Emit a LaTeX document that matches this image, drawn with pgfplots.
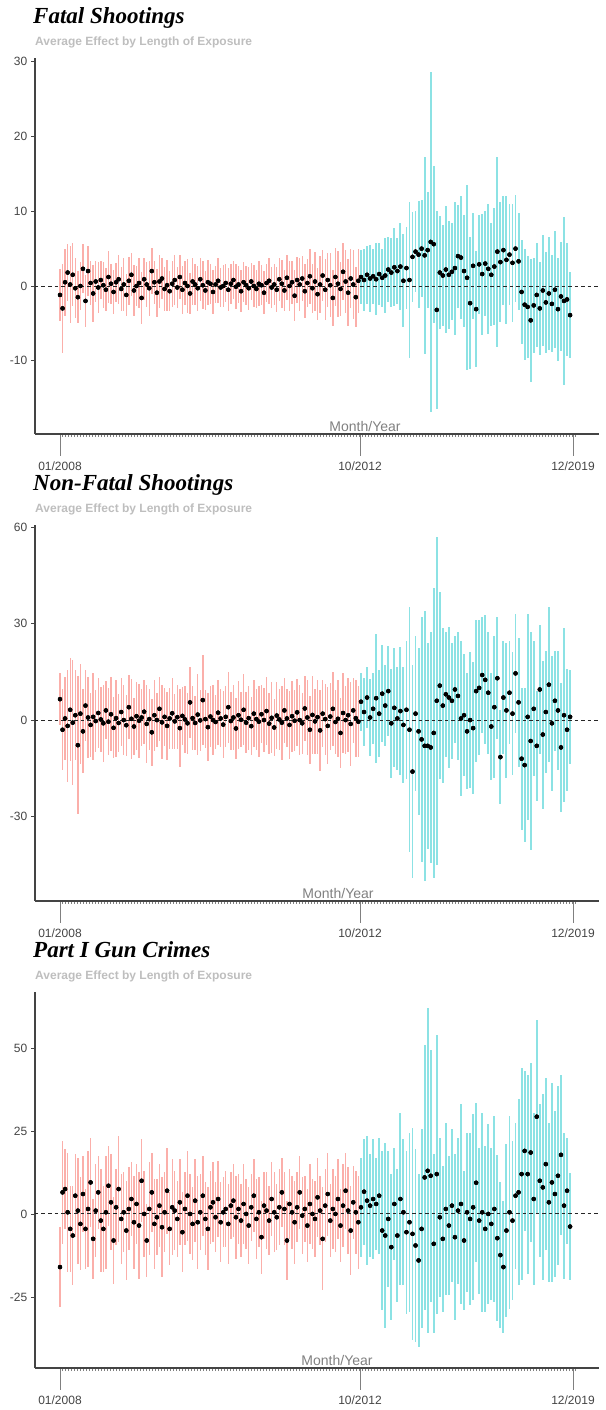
\documentclass[border=0pt]{standalone}
\usepackage{fontspec}
\setmainfont{Liberation Sans}
\newfontfamily\serifbf{Liberation Serif}
\usepackage{pgfplots}
\usepackage{pgfplotstable}
\pgfplotsset{compat=1.18}
\definecolor{rbar}{HTML}{F8766D}
\definecolor{tbar}{HTML}{00BFC4}
\definecolor{axgray}{HTML}{444444}
\definecolor{subgray}{HTML}{BEBEBE}

% Fatal shootings
\pgfplotstableread[row sep=\\]{y e\\
-1.2 3.5\\ -3.0 6.0\\ 0.5 4.5\\ 1.8 3.8\\ 0.2 5.2\\ 1.5 4.2\\ -0.3 4.0\\ -1.5 3.5\\ 0.0 3.2\\ 2.3 3.3\\
-2.0 3.5\\ 2.0 3.4\\ 0.4 3.0\\ -1.0 3.8\\ 0.6 2.8\\ -0.2 3.4\\ 0.8 2.6\\ 0.1 3.1\\ -0.5 2.9\\ 1.2 3.5\\
0.3 2.7\\ -0.8 3.0\\ 0.5 2.6\\ 0.9 3.3\\ -0.4 2.9\\ 0.2 3.6\\ -1.2 2.8\\ 0.7 3.2\\ 1.5 2.9\\ -0.6 3.4\\
0.0 2.7\\ 0.4 3.3\\ -1.6 3.5\\ 0.9 2.8\\ 0.2 3.0\\ -0.3 3.7\\ 2.0 3.1\\ 0.5 2.9\\ -0.9 3.2\\ 0.6 3.5\\
1.0 2.8\\ -0.4 3.0\\ 0.1 3.4\\ -0.7 2.7\\ 0.3 3.1\\ 0.8 3.3\\ -0.2 2.8\\ 1.2 3.0\\ -0.5 3.2\\ 0.4 2.9\\
0.0 3.6\\ -1.0 2.7\\ 0.6 3.1\\ 0.2 2.8\\ -0.3 3.0\\ 0.9 2.9\\ 0.1 3.2\\ -0.6 2.6\\ 0.5 3.0\\ 0.3 2.7\\
-0.8 2.9\\ 0.2 2.5\\ 0.7 3.0\\ -0.2 2.6\\ 0.0 2.8\\ 0.4 2.5\\ -0.5 2.9\\ 0.3 2.7\\ 0.8 2.6\\ -0.1 3.0\\
0.2 2.5\\ -0.7 2.8\\ 0.5 2.7\\ 0.1 2.6\\ -0.3 2.9\\ 0.6 2.5\\ 0.0 2.8\\ -0.4 2.6\\ 0.3 3.0\\ 0.1 2.7\\
-0.9 2.9\\ 0.4 2.6\\ 0.7 3.1\\ -0.2 2.8\\ 0.2 2.7\\ -0.5 3.0\\ 0.9 2.9\\ 0.3 3.2\\ -0.6 2.8\\ 1.1 3.0\\
0.0 3.3\\ 0.5 2.9\\ -1.3 3.4\\ 0.8 3.1\\ 0.2 3.5\\ 1.0 3.0\\ -0.7 3.6\\ 0.4 3.2\\ 1.3 3.7\\ -0.3 3.3\\
0.6 4.0\\ -1.1 3.5\\ 0.2 3.8\\ 1.4 3.4\\ -0.5 4.1\\ 0.8 3.6\\ 0.1 4.3\\ -1.6 3.7\\ 1.2 3.9\\ 0.3 4.4\\
-0.4 3.6\\ 1.9 3.8\\ 0.6 4.2\\ -0.9 4.5\\ 1.0 3.9\\ 0.2 4.6\\ -1.5 4.0\\ 0.7 4.3\\
}\FR
\pgfplotstableread[row sep=\\]{y e\\
1.2 3.6\\ 0.8 4.2\\ 1.5 3.9\\ 1.0 4.5\\ 1.3 3.7\\ 0.9 4.8\\ 1.6 4.1\\ 1.1 3.9\\ 1.4 5.0\\ 2.2 4.3\\
1.8 4.6\\ 2.5 5.2\\ 2.0 4.4\\ 2.6 5.8\\ 0.7 6.2\\ 2.4 5.5\\ 0.8 10.4\\ 3.9 6.0\\ 4.6 5.4\\ 4.2 7.2\\
5.0 6.5\\ 4.1 13.2\\ 4.8 7.8\\ 5.9 22.8\\ 5.6 10.5\\ -3.2 13.2\\ 1.8 7.6\\ 1.4 6.8\\ 2.2 8.5\\ 1.5 7.2\\
1.9 6.5\\ 2.4 8.9\\ 4.0 6.9\\ 3.8 8.2\\ 2.0 7.5\\ 1.1 12.4\\ -2.3 8.8\\ 2.7 7.1\\ -3.1 7.8\\ 2.9 6.6\\
1.6 8.1\\ 3.0 7.0\\ 2.3 8.7\\ 1.5 6.9\\ 2.6 7.8\\ 4.6 12.7\\ 3.2 8.0\\ 4.8 7.3\\ 3.5 8.6\\ 4.2 6.8\\
3.1 7.9\\ 5.0 7.2\\ 3.3 6.5\\ -0.8 6.9\\ -2.5 7.4\\ -2.8 6.8\\ -4.6 8.2\\ -2.6 6.4\\ -1.2 7.0\\ -3.0 6.2\\
-0.6 7.4\\ -2.2 6.8\\ -1.0 7.6\\ -2.4 6.5\\ -0.5 7.8\\ -3.1 6.9\\ -1.4 7.3\\ -2.0 11.2\\ -1.8 7.6\\ -3.9 5.8\\
}\FT

% Non-fatal shootings
\pgfplotstableread[row sep=\\]{y e\\
6.5 8.0\\ -3.0 12.5\\ 0.5 13.0\\ -1.8 17.5\\ 3.2 16.0\\ -0.8 19.5\\ 1.5 14.0\\ -7.8 21.5\\ 2.0 15.5\\ -3.5 13.0\\
4.5 11.0\\ 0.8 12.5\\ -1.5 10.0\\ 1.0 13.5\\ -0.3 9.5\\ 2.2 11.0\\ 0.2 10.0\\ -1.0 12.0\\ 3.0 9.0\\ -0.5 10.5\\
1.8 11.5\\ -2.4 9.5\\ 0.6 12.0\\ -0.9 9.0\\ 2.5 10.5\\ 0.0 11.0\\ -1.6 9.5\\ 4.0 10.0\\ 0.4 12.5\\ -2.0 9.0\\
1.2 10.5\\ -0.2 11.5\\ 0.8 9.0\\ 2.6 10.0\\ -1.2 12.0\\ 0.3 9.5\\ -3.8 10.5\\ 1.5 11.0\\ 0.0 8.5\\ 3.5 10.0\\
-0.7 11.5\\ 1.0 9.0\\ -1.8 10.5\\ 0.5 9.5\\ 2.1 11.0\\ -0.4 8.5\\ 0.9 10.0\\ -2.5 12.0\\ 1.3 9.0\\ 0.2 10.5\\
-1.0 9.5\\ 5.5 11.0\\ 0.6 10.0\\ -0.9 8.5\\ 1.7 12.5\\ -0.1 9.5\\ 6.2 14.0\\ 0.3 9.0\\ -2.2 10.5\\ 1.1 9.5\\
0.0 11.0\\ -0.6 8.5\\ 2.3 10.0\\ 0.5 9.0\\ -1.4 10.5\\ 1.0 9.5\\ 4.0 11.0\\ -0.3 9.0\\ 0.8 10.0\\ -2.6 9.5\\
1.5 10.5\\ 0.1 8.5\\ 3.2 11.0\\ -0.8 9.5\\ 0.6 10.0\\ -1.9 9.0\\ 2.0 10.5\\ 0.3 9.5\\ -0.5 11.0\\ 1.8 9.0\\
0.0 10.0\\ 2.8 10.5\\ -1.1 9.5\\ 0.7 11.0\\ -2.3 9.0\\ 1.4 10.5\\ 0.2 9.5\\ -0.8 11.5\\ 3.0 10.0\\ 0.5 9.0\\
-1.5 10.5\\ 1.2 11.0\\ -0.2 9.5\\ 2.4 10.5\\ 0.0 11.0\\ -1.0 9.5\\ 3.6 10.0\\ 0.8 11.5\\ -3.0 10.5\\ 1.6 12.0\\
-0.4 10.0\\ 0.9 11.5\\ -3.2 12.5\\ 2.0 10.5\\ 0.3 11.0\\ -1.8 12.0\\ 1.1 10.5\\ 3.5 11.5\\ -0.6 10.0\\ 0.4 12.0\\
-4.0 11.0\\ 2.2 12.5\\ 0.0 10.5\\ 1.5 11.5\\ -1.2 13.0\\ 3.0 10.0\\ 0.6 12.0\\ -0.5 11.0\\
}\SR
\pgfplotstableread[row sep=\\]{y e\\
5.7 9.0\\ 2.5 10.5\\ 7.0 9.5\\ 0.8 12.0\\ 3.5 11.0\\ 6.8 20.0\\ 2.0 13.5\\ 8.2 15.0\\ 4.5 12.5\\ 9.0 14.0\\
-1.0 17.0\\ 3.8 18.5\\ 0.5 16.0\\ 2.8 20.0\\ -1.5 18.0\\ 3.2 21.5\\ -3.0 38.0\\ -16.0 33.0\\ 2.0 24.0\\ -3.5 26.0\\
-6.0 38.0\\ -8.0 42.0\\ -8.0 32.0\\ -8.5 36.0\\ -4.0 45.0\\ 6.0 51.0\\ 10.7 29.0\\ 4.5 24.0\\ 8.0 19.5\\ 7.0 22.0\\
6.0 18.0\\ 9.5 16.5\\ 7.5 20.0\\ 0.5 24.0\\ 1.5 19.0\\ -3.5 18.0\\ 0.0 21.0\\ -2.5 20.5\\ 9.0 22.0\\ 10.0 21.0\\
14.0 18.0\\ 12.5 20.0\\ 8.5 19.0\\ -2.0 16.5\\ 4.0 22.0\\ 13.0 19.0\\ -11.5 14.5\\ 7.0 17.5\\ 3.0 21.0\\ 8.5 16.0\\
2.0 19.0\\ 14.5 18.5\\ 5.5 20.0\\ -12.0 22.0\\ -14.0 24.0\\ 1.0 32.0\\ -6.5 34.0\\ 3.5 21.0\\ -8.0 17.0\\ 9.5 20.0\\
-4.5 23.0\\ 2.5 19.0\\ 11.0 24.0\\ -1.0 21.0\\ 6.0 15.5\\ 3.0 18.5\\ -8.5 20.0\\ 1.5 27.0\\ -3.0 19.0\\ 1.0 14.5\\
}\ST

% Part I gun crimes
\pgfplotstableread[row sep=\\]{y e\\
-16.0 12.0\\ 6.5 15.5\\ 7.5 12.0\\ 0.5 18.0\\ -4.5 13.0\\ -6.5 15.0\\ 5.5 12.5\\ 1.0 16.0\\ -3.0 14.0\\ 6.0 11.5\\
-4.5 12.0\\ 1.5 17.5\\ 9.5 13.5\\ -7.5 12.0\\ 1.0 14.0\\ 6.5 11.0\\ -2.0 15.5\\ -4.5 13.0\\ 0.5 17.0\\ 8.5 12.0\\
3.5 14.5\\ -8.0 13.0\\ 2.0 11.5\\ 7.5 16.0\\ -1.5 13.5\\ 0.5 12.0\\ -5.0 15.0\\ 1.5 12.5\\ 4.5 11.0\\ -2.5 14.0\\
3.0 12.0\\ -3.5 16.0\\ 10.0 12.5\\ 0.0 13.0\\ -8.0 11.0\\ 1.5 14.0\\ 6.5 12.0\\ -3.0 13.5\\ -1.0 11.5\\ 2.5 12.5\\
-4.0 15.0\\ 0.5 12.0\\ 7.0 13.0\\ -4.5 11.0\\ 2.0 14.5\\ 1.0 12.0\\ -1.5 11.5\\ 3.5 13.0\\ -5.5 12.0\\ 1.5 11.0\\
5.5 13.5\\ 0.0 12.0\\ -3.0 11.0\\ 4.0 12.5\\ -2.5 14.0\\ 0.5 11.5\\ 5.5 12.0\\ -1.5 11.0\\ -4.5 12.5\\ 2.0 11.0\\
3.5 12.0\\ -1.0 10.5\\ 4.5 11.5\\ -2.5 12.0\\ 0.5 10.5\\ 1.5 11.5\\ -3.0 12.0\\ 2.5 10.0\\ 4.0 11.0\\ -1.0 12.5\\
1.5 10.5\\ -2.0 11.0\\ 3.0 12.0\\ 0.0 10.5\\ -3.5 11.5\\ 2.0 10.0\\ 5.5 11.0\\ -1.5 12.0\\ 0.5 10.5\\ -7.0 11.0\\
2.5 10.0\\ 1.0 11.5\\ -2.0 10.5\\ 4.5 11.0\\ 0.5 12.0\\ -1.0 10.0\\ 2.0 11.5\\ 6.5 10.5\\ 1.5 11.0\\ -8.0 12.0\\
3.0 10.5\\ 0.5 11.0\\ -2.5 12.5\\ 2.0 10.5\\ 6.5 11.0\\ -0.5 11.5\\ 1.5 10.0\\ -3.5 11.0\\ 3.0 12.0\\ 0.0 10.5\\
-1.5 11.5\\ 5.0 12.0\\ 1.0 10.5\\ -7.5 15.5\\ 2.5 11.0\\ 6.0 12.5\\ -2.0 11.0\\ 1.5 12.0\\ 0.0 11.5\\ 4.5 12.0\\
-3.5 11.0\\ 2.5 12.5\\ 7.0 11.5\\ 1.0 13.0\\ -5.0 13.5\\ 3.5 11.0\\ 0.5 12.5\\ -2.5 14.0\\
}\GR
\pgfplotstableread[row sep=\\]{y e\\
2.0 15.0\\ 6.7 16.0\\ 4.0 19.5\\ 2.5 15.5\\ 4.5 18.0\\ 3.0 14.0\\ 5.5 17.5\\ -5.0 24.0\\ -6.5 28.0\\ -1.5 20.5\\
-10.0 22.0\\ 3.0 17.0\\ -6.5 20.0\\ 4.5 26.0\\ 0.5 22.0\\ -5.5 24.5\\ -2.5 27.0\\ -6.0 32.0\\ -9.5 29.0\\ -14.0 26.0\\
-4.5 30.0\\ 11.0 40.0\\ 13.0 49.0\\ 11.5 38.0\\ -9.0 27.0\\ 12.0 42.0\\ -1.0 24.0\\ -7.5 22.0\\ 1.5 26.0\\ -3.5 21.0\\
2.5 23.0\\ -7.0 25.0\\ 1.0 22.0\\ 3.0 30.0\\ -8.0 21.0\\ 0.5 24.0\\ -1.5 26.0\\ 2.0 28.0\\ 9.4 24.0\\ -2.0 22.0\\
0.5 30.0\\ -4.5 25.0\\ 0.0 27.0\\ -3.0 23.0\\ 1.5 28.0\\ -7.3 25.0\\ -12.4 22.0\\ -16.0 20.0\\ -5.0 26.0\\ 0.5 29.0\\
-2.0 24.0\\ 5.5 22.0\\ 6.5 28.0\\ 12.0 32.0\\ 19.0 24.0\\ 12.0 30.0\\ 18.5 27.0\\ 4.5 26.0\\ 29.3 29.0\\ 10.0 23.0\\
8.0 28.0\\ 15.0 26.0\\ 3.5 24.0\\ 9.5 30.0\\ 6.0 25.0\\ 11.5 27.0\\ 17.8 24.0\\ 2.5 22.0\\ 7.0 16.0\\ -3.8 16.0\\
}\GT

\pgfplotsset{
  panel/.style={
    scale only axis, width=564pt, height=376pt,
    xmin=35, xmax=599,
    axis x line*=bottom, axis y line*=left,
    axis line style={axgray, line width=1.3pt, -},
    xtick={60,360,573}, xticklabels={01/2008,10/2012,12/2019},
    minor xtick={62,65,...,575},
    tick align=outside,
    xtick style={/pgfplots/major tick length=22pt, gray, line width=0.8pt},
    ytick style={/pgfplots/major tick length=3.5pt, axgray, line width=0.8pt},
    minor tick length=3pt,
    minor tick style={axgray!70, line width=0.5pt},
    /pgf/number format/assume math mode=true,
    xticklabel style={font=\fontsize{12}{13}\selectfont, text=axgray, yshift=-20pt},
    yticklabel style={font=\fontsize{12}{13}\selectfont, text=axgray},
  },
  redbars/.style={forget plot, draw=none, mark=none, only marks,
    error bars/.cd, y dir=both, y explicit, error mark=none,
    error bar style={rbar, opacity=0.58, line width=1.4pt}},
  tealbars/.style={forget plot, draw=none, mark=none, only marks,
    error bars/.cd, y dir=both, y explicit, error mark=none,
    error bar style={tbar, opacity=0.45, line width=1.9pt}},
  reddots/.style={forget plot, draw=none, mark=none, only marks,
    error bars/.cd, y dir=both, y explicit, error mark=none,
    error bar style={rbar!90!black, opacity=0.95, line width=2.6pt, line cap=round}},
  tealdots/.style={forget plot, draw=none, mark=none, only marks,
    error bars/.cd, y dir=both, y explicit, error mark=none,
    error bar style={tbar!85!black, opacity=0.95, line width=2.6pt, line cap=round}},
  zerost/.style={black!85, line width=0.9pt, dash pattern=on 3.5pt off 3pt, forget plot},
}

\tikzset{
  ttl/.style={anchor=base west, inner sep=0pt, font=\serifbf\bfseries\itshape\fontsize{23}{23}\selectfont},
  sub/.style={anchor=base west, inner sep=0pt, text=subgray, font=\bfseries\fontsize{12}{12}\selectfont},
  mlab/.style={anchor=south, font=\fontsize{14}{14}\selectfont, text=gray, inner sep=1pt, yshift=1.5pt},
}

\begin{document}
\begin{tikzpicture}
\useasboundingbox (0,0) rectangle (605pt,1410pt);

% ---------- Panel 1 ----------
\node[ttl] at (33pt,1386.5pt) {Fatal Shootings};
\node[sub] at (35pt,1364pt) {Average Effect by Length of Exposure};
\begin{axis}[panel, at={(35pt,976pt)}, anchor=south west,
  ymin=-19.81, ymax=30.52, ytick={-10,0,10,20,30}]
\addplot[redbars] table[x expr=60+2.55*\coordindex, y=y, y error=e]{\FR};
\addplot[tealbars] table[x expr=361+3.03*\coordindex, y=y, y error=e]{\FT};
\addplot[zerost] coordinates {(35,0) (599,0)};
\addplot[reddots] table[x expr=60+2.55*\coordindex, y=y, y error expr=0.001]{\FR};
\addplot[tealdots] table[x expr=361+3.03*\coordindex, y=y, y error expr=0.001]{\FT};
\node[mlab] at (axis cs:365,-19.81) {Month/Year};
\end{axis}

% ---------- Panel 2 ----------
\node[ttl] at (33pt,919.5pt) {Non-Fatal Shootings};
\node[sub] at (35pt,897pt) {Average Effect by Length of Exposure};
\begin{axis}[panel, at={(35pt,509pt)}, anchor=south west,
  ymin=-56.2, ymax=60.6, ytick={-30,0,30,60}]
\addplot[redbars] table[x expr=60+2.55*\coordindex, y=y, y error=e]{\SR};
\addplot[tealbars] table[x expr=361+3.03*\coordindex, y=y, y error=e]{\ST};
\addplot[zerost] coordinates {(35,0) (599,0)};
\addplot[reddots] table[x expr=60+2.55*\coordindex, y=y, y error expr=0.001]{\SR};
\addplot[tealdots] table[x expr=361+3.03*\coordindex, y=y, y error expr=0.001]{\ST};
\node[mlab] at (axis cs:338,-56.2) {Month/Year};
\end{axis}

% ---------- Panel 3 ----------
\node[ttl] at (33pt,452.5pt) {Part I Gun Crimes};
\node[sub] at (35pt,430pt) {Average Effect by Length of Exposure};
\begin{axis}[panel, at={(35pt,42pt)}, anchor=south west,
  ymin=-46.4, ymax=66.85, ytick={-25,0,25,50}]
\addplot[redbars] table[x expr=60+2.55*\coordindex, y=y, y error=e]{\GR};
\addplot[tealbars] table[x expr=361+3.03*\coordindex, y=y, y error=e]{\GT};
\addplot[zerost] coordinates {(35,0) (599,0)};
\addplot[reddots] table[x expr=60+2.55*\coordindex, y=y, y error expr=0.001]{\GR};
\addplot[tealdots] table[x expr=361+3.03*\coordindex, y=y, y error expr=0.001]{\GT};
\node[mlab] at (axis cs:337,-46.4) {Month/Year};
\end{axis}
\end{tikzpicture}
\end{document}
